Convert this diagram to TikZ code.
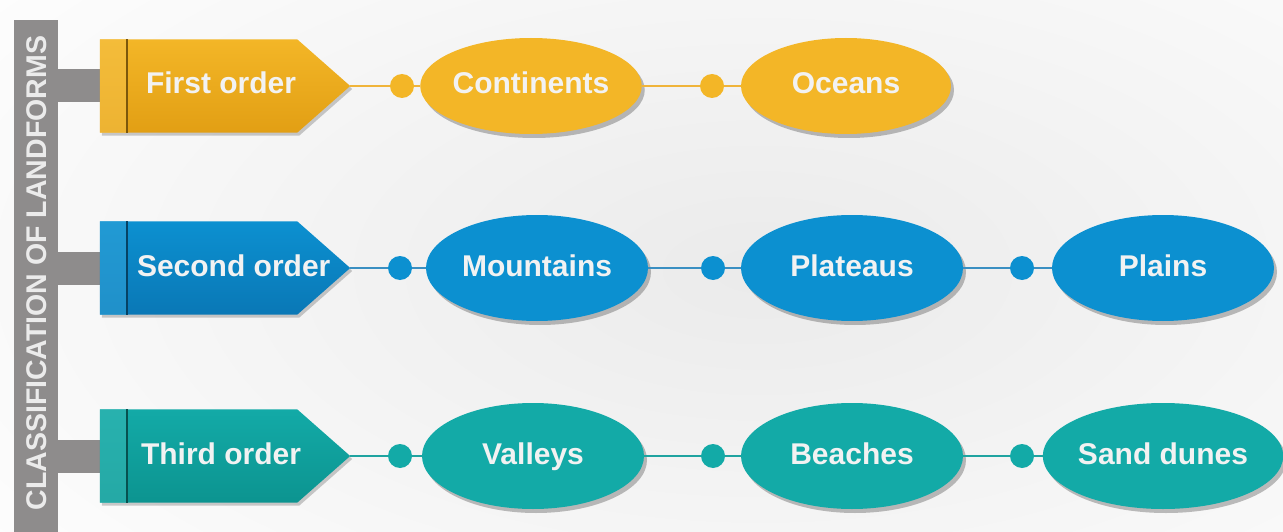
\documentclass[tikz,border=0pt]{standalone}
\usepackage{fontspec}
\setmainfont{Liberation Sans}
\usetikzlibrary{shapes.geometric,shadows,calc}
\definecolor{gold}{HTML}{F3B627}
\definecolor{golddark}{HTML}{E29F14}
\definecolor{goldline}{HTML}{F0B43A}
\definecolor{sky}{HTML}{0C90D0}
\definecolor{skydark}{HTML}{0A78B6}
\definecolor{skyline}{HTML}{3A8FC2}
\definecolor{tealc}{HTML}{13AAA7}
\definecolor{tealdark}{HTML}{0C9490}
\definecolor{tealline}{HTML}{1FA3A0}
\definecolor{barg}{HTML}{8E8C8C}
\begin{document}
\begin{tikzpicture}[x=1pt,y=-1pt,
  lbl/.style={font=\fontsize{30}{34}\selectfont\bfseries, text=white!95!black, inner sep=0pt, text height=22pt, text depth=6pt},
  oval/.style={ellipse, fill=#1, minimum width=222pt, minimum height=106pt, inner sep=0pt,
     drop shadow={shadow xshift=3pt, shadow yshift=-4pt, opacity=0.25, fill=black}},
  dot/.style={circle, fill=#1, minimum size=24pt, inner sep=0pt},
  link/.style={draw=#1, line width=2pt},
  orderbox/.style={minimum width=250pt, minimum height=93pt, inner sep=0pt},
  smallrow/.style={minimum width=210pt, minimum height=96pt}]
\useasboundingbox (0,0) rectangle (1283,532);
\fill[white] (0,0) rectangle (1283,532);
\begin{scope}
\clip (0,0) rectangle (1283,532);
\shade[inner color=black!8, outer color=white] (760,270) ellipse (1050pt and 520pt);
\end{scope}

% vertical bar and title
\node[name=bar, fill=barg, minimum width=44pt, minimum height=512pt, inner sep=0pt, anchor=north west] at (14,20) {};
\node[name=title, rotate=90, font=\fontsize{28.5}{30}\selectfont\bfseries, text=white!92!black, inner sep=0pt] at ($(bar.center)+(0,-3)$) {CLASSIFICATION OF LANDFORMS};

% order boxes
\node[orderbox, name=o1] at (225,86) {};
\node[orderbox, name=o2] at (225,268) {};
\node[orderbox, name=o3] at (225,456) {};

\foreach \o/\c/\d in {o1/gold/golddark, o2/sky/skydark, o3/tealc/tealdark}{
  \fill[barg] ($(bar.east |- \o.west)+(-1,-16.5)$) rectangle ($(\o.west)+(1,16.5)$);
  \shade[top color=\c, bottom color=\d, drop shadow={shadow xshift=2pt, shadow yshift=-3pt, opacity=0.2, fill=black}]
     (\o.north west) -- ([xshift=-53pt]\o.north east) -- (\o.east) -- ([xshift=-53pt]\o.south east) -- (\o.south west) -- cycle;
  \fill[\c!85!white, opacity=0.6] (\o.north west) rectangle ([xshift=27pt]\o.south west);
  \draw[\d!55!black, line width=2pt] ([xshift=27pt]\o.north west) -- ([xshift=27pt]\o.south west);
}
\node[lbl, anchor=west] (t1) at ([xshift=46pt]o1.west) {First order};
\node[lbl, anchor=west] (t2) at ([xshift=37pt]o2.west) {Second order};
\node[lbl, anchor=west] (t3) at ([xshift=41pt]o3.west) {Third order};

% row 1
\node[dot=gold] (d11) at (402,86) {};
\node[oval=gold, smallrow, lbl] (e11) at (531,86) {Continents};
\node[dot=gold] (d12) at (712,86) {};
\node[oval=gold, smallrow, lbl] (e12) at (846,86) {Oceans};
\draw[link=goldline] (o1.east) -- (d11) -- (e11) -- (d12) -- (e12);

% row 2
\node[dot=sky] (d21) at (400,268) {};
\node[oval=sky, lbl] (e21) at (537,268) {Mountains};
\node[dot=sky] (d22) at (713,268) {};
\node[oval=sky, lbl] (e22) at (852,268) {Plateaus};
\node[dot=sky] (d23) at (1022,268) {};
\node[oval=sky, lbl] (e23) at (1163,268) {Plains};
\draw[link=skyline] (o2.east) -- (d21) -- (e21) -- (d22) -- (e22) -- (d23) -- (e23);

% row 3
\node[dot=tealc] (d31) at (400,456) {};
\node[oval=tealc, lbl] (e31) at (533,456) {Valleys};
\node[dot=tealc] (d32) at (713,456) {};
\node[oval=tealc, lbl] (e32) at (852,456) {Beaches};
\node[dot=tealc] (d33) at (1022,456) {};
\node[oval=tealc, lbl] (e33) at (1163,456) {Sand dunes};
\draw[link=tealline] (o3.east) -- (d31) -- (e31) -- (d32) -- (e32) -- (d33) -- (e33);
\end{tikzpicture}
\end{document}
